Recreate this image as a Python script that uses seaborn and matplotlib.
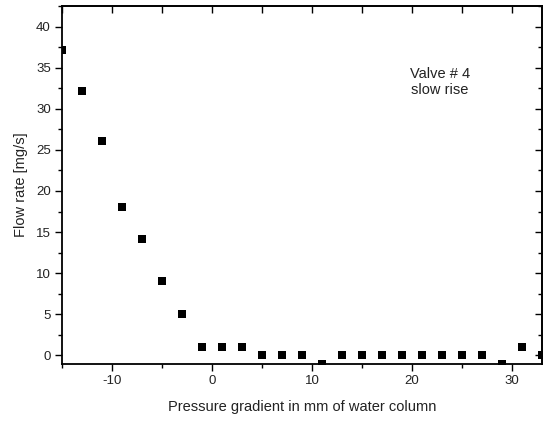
import matplotlib
matplotlib.use("Agg")
import matplotlib.pyplot as plt
from matplotlib.ticker import MultipleLocator
import seaborn as sns
import pandas as pd

# Valve #4, slow rise: flow rate versus pressure gradient
pressure_mm = [-15, -13, -11, -9, -7, -5, -3, -1, 1, 3, 5, 7, 9, 11, 13, 15, 17,
               19, 21, 23, 25, 27, 29, 31, 33]
flow_mg_s = [37.1, 32.1, 26.1, 18.1, 14.1, 9.0, 5.0, 1.0, 1.0, 1.0, 0.0, 0.0, 0.0,
             -1.1, 0.0, 0.0, 0.0, 0.0, 0.0, 0.0, 0.0, 0.0, -1.1, 1.0, 0.0]

df = pd.DataFrame({"pressure": pressure_mm, "flow": flow_mg_s})

sns.set_theme(style="white")
plt.rcParams["font.family"] = ["Liberation Sans", "DejaVu Sans"]
plt.rcParams["axes.unicode_minus"] = False

fig = plt.figure(figsize=(5.43, 4.21), dpi=100)
ax = fig.add_axes([62 / 543, 1 - 364 / 421, 480 / 543, 358 / 421])

sns.scatterplot(data=df, x="pressure", y="flow", ax=ax, marker="s", s=32,
                color="black", edgecolor="black", linewidth=0, clip_on=True)

ax.set_xlim(-15, 33)
ax.set_ylim(-1.05, 42.5)
ax.xaxis.set_major_locator(MultipleLocator(10))
ax.xaxis.set_minor_locator(MultipleLocator(5))
ax.yaxis.set_major_locator(MultipleLocator(5))
ax.yaxis.set_minor_locator(MultipleLocator(2.5))

for side in ax.spines.values():
    side.set_color("black")
    side.set_linewidth(1.3)

ax.tick_params(axis="both", which="major", direction="out", length=5, width=1,
               color="black", labelsize=9.5, labelcolor="#222222", pad=3)
ax.tick_params(axis="both", which="minor", direction="out", length=3, width=1,
               color="black")
ax.tick_params(bottom=True, left=True, which="both")

# Mirrored inward ticks on the top and right spines
top = ax.secondary_xaxis("top")
top.xaxis.set_major_locator(MultipleLocator(10))
top.xaxis.set_minor_locator(MultipleLocator(5))
top.tick_params(which="both", direction="in", length=5, width=1, labeltop=False,
                color="black")
right = ax.secondary_yaxis("right")
right.yaxis.set_major_locator(MultipleLocator(5))
right.yaxis.set_minor_locator(MultipleLocator(2.5))
right.tick_params(which="both", direction="in", length=5, width=1, labelright=False,
                  color="black")
right.tick_params(which="minor", length=3)
for sec in (top, right):
    for s in sec.spines.values():
        s.set_linewidth(1.3)

ax.set_xlabel("Pressure gradient in mm of water column", fontsize=10.5,
              color="#222222", labelpad=9)
ax.set_ylabel("Flow rate [mg/s]", fontsize=10.5, color="#222222", labelpad=6)

ax.text(22.8, 33.3, "Valve # 4\nslow rise", ha="center", va="center",
        fontsize=10.5, color="#222222", linespacing=1.2)

fig.savefig("out.png", dpi=100)
